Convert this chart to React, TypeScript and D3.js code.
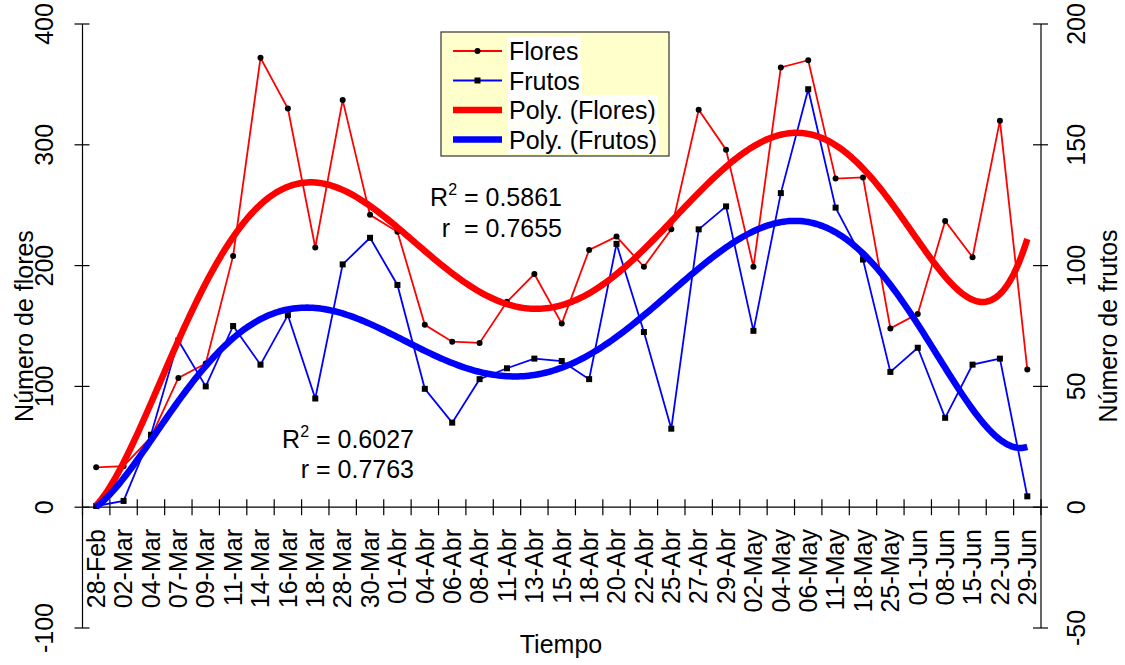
import React from "react";
import * as d3 from "d3";

const categories = [
  "28-Feb", "02-Mar", "04-Mar", "07-Mar", "09-Mar", "11-Mar", "14-Mar", "16-Mar", "18-Mar", "28-Mar",
  "30-Mar", "01-Abr", "04-Abr", "06-Abr", "08-Abr", "11-Abr", "13-Abr", "15-Abr", "18-Abr", "20-Abr",
  "22-Abr", "25-Abr", "27-Abr", "29-Abr", "02-May", "04-May", "06-May", "11-May", "18-May", "25-May",
  "01-Jun", "08-Jun", "15-Jun", "22-Jun", "29-Jun",
];
const flores = [
  33, 34, 58, 107, 119, 208, 372, 330, 215, 337,
  242, 228, 151, 137, 136, 170, 193, 152, 213, 224,
  199, 230, 329, 296, 199, 364, 370, 272, 273, 148,
  160, 237, 207, 320, 114,
];
const frutos = [
  0.5, 2.6, 30, 69, 50, 75, 59, 79.5, 45, 100.5,
  111.5, 92, 49, 35, 53, 57.5, 61.5, 60.5, 53, 109,
  72.5, 32.5, 115, 124.5, 73, 130, 173, 124, 102.5, 56,
  66, 37, 59, 61.5, 4.5,
];
const leftTicks = [-100, 0, 100, 200, 300, 400];
const rightTicks = [-50, 0, 50, 100, 150, 200];
const legendLabels = ["Flores", "Frutos", "Poly. (Flores)", "Poly. (Frutos)"];
const polyOrder = 6;

// least squares polynomial fit (Excel-like polynomial trendline)
function polyFit(ys: number[], order: number) {
  const n = ys.length;
  const c = (n - 1) / 2;
  const ts = ys.map((_, i) => (i - c) / c);
  const m = order + 1;
  const A: number[][] = [];
  for (let r = 0; r < m; r++) {
    const row: number[] = [];
    for (let k = 0; k < m; k++) {
      let s = 0;
      for (let i = 0; i < n; i++) s += Math.pow(ts[i], r + k);
      row.push(s);
    }
    let b = 0;
    for (let i = 0; i < n; i++) b += ys[i] * Math.pow(ts[i], r);
    row.push(b);
    A.push(row);
  }
  for (let col = 0; col < m; col++) {
    let piv = col;
    for (let r = col + 1; r < m; r++) if (Math.abs(A[r][col]) > Math.abs(A[piv][col])) piv = r;
    [A[col], A[piv]] = [A[piv], A[col]];
    for (let r = 0; r < m; r++) {
      if (r === col) continue;
      const f = A[r][col] / A[col][col];
      for (let k = col; k <= m; k++) A[r][k] -= f * A[col][k];
    }
  }
  const coef = A.map((row, i) => row[m] / row[i]);
  return (x: number) => {
    const t = (x - c) / c;
    let s = 0;
    for (let k = 0; k < m; k++) s += coef[k] * Math.pow(t, k);
    return s;
  };
}

const FONT = "'Liberation Sans', Arial, sans-serif";
const FS = 25;

function measure(text: string, size: number) {
  const cv = document.createElement("canvas");
  const ctx = cv.getContext("2d");
  if (!ctx) return text.length * size * 0.55;
  ctx.font = `${size}px ${FONT}`;
  return ctx.measureText(text).width;
}

export default function App() {
  const W = 1125, H = 665;
  const x0 = 82.5, x1 = 1041;
  const x = d3.scaleBand<string>().domain(categories).range([x0, x1]).paddingInner(0).paddingOuter(0);
  const cx = (i: number) => (x(categories[i]) as number) + x.bandwidth() / 2;
  const yL = d3.scaleLinear().domain([-100, 400]).range([628, 24]);
  const yR = d3.scaleLinear().domain([-50, 200]).range([628, 24]);
  const xi = d3.scaleLinear().domain([0, categories.length - 1]).range([cx(0), cx(categories.length - 1)]);

  const fitF = polyFit(flores, polyOrder);
  const fitR = polyFit(frutos, polyOrder);
  const samples = d3.range(0, categories.length - 1 + 1e-9, 0.1);

  const lineF = d3.line<number>().x((_, i) => cx(i)).y((v) => yL(v));
  const lineR = d3.line<number>().x((_, i) => cx(i)).y((v) => yR(v));
  const trendF = d3.line<number>().x((t) => xi(t)).y((t) => yL(fitF(t))).curve(d3.curveLinear);
  const trendR = d3.line<number>().x((t) => xi(t)).y((t) => yR(fitR(t))).curve(d3.curveLinear);

  const boundaries = d3.range(categories.length + 1).map((i) => x0 + i * x.bandwidth());

  const legX = 441, legY = 32, legW = 228, legH = 124;
  const legRowY = (i: number) => 51 + i * 29.5;

  return (
    <svg width={W} height={H} style={{ position: "absolute", left: 0, top: 0, fontFamily: FONT }}>
      <rect x={0} y={0} width={W} height={H} fill="#fff" />
      {/* left axis */}
      <line x1={x0} x2={x0} y1={yL(400)} y2={yL(-100)} stroke="#000" strokeWidth={1.2} />
      {leftTicks.map((t) => (
        <g key={"l" + t}>
          <line x1={x0 - 8} x2={x0 + 7} y1={yL(t)} y2={yL(t)} stroke="#000" strokeWidth={1.2} />
          <text transform={`translate(53,${yL(t)}) rotate(-90)`} textAnchor="middle" fontSize={FS} fill="#000">{t}</text>
        </g>
      ))}
      <text transform={`translate(33,326) rotate(-90)`} textAnchor="middle" fontSize={FS} fill="#000">Número de flores</text>
      {/* right axis */}
      <line x1={x1} x2={x1} y1={yR(200)} y2={yR(-50)} stroke="#000" strokeWidth={1.2} />
      {rightTicks.map((t) => (
        <g key={"r" + t}>
          <line x1={x1 - 8} x2={x1 + 7} y1={yR(t)} y2={yR(t)} stroke="#000" strokeWidth={1.2} />
          <text transform={`translate(1085,${yR(t)}) rotate(-90)`} textAnchor="middle" fontSize={FS} fill="#000">{t}</text>
        </g>
      ))}
      <text transform={`translate(1117,326) rotate(-90)`} textAnchor="middle" fontSize={FS} fill="#000">Número de frutos</text>
      {/* x axis */}
      <line x1={x0} x2={x1} y1={yL(0)} y2={yL(0)} stroke="#000" strokeWidth={1.2} />
      {boundaries.map((b, i) => (
        <line key={"b" + i} x1={b} x2={b} y1={yL(0) - 8} y2={yL(0) + 8} stroke="#000" strokeWidth={1.2} />
      ))}
      {categories.map((c, i) => (
        <text key={c} transform={`translate(${cx(i)},529) rotate(-90)`} dy="0.35em" textAnchor="end" fontSize={FS} fill="#000">{c}</text>
      ))}
      <text x={561} y={653} textAnchor="middle" fontSize={FS} fill="#000">Tiempo</text>

      {/* data series */}
      <path d={lineF(flores) || ""} fill="none" stroke="#FF0000" strokeWidth={1.8} />
      <path d={lineR(frutos) || ""} fill="none" stroke="#0000FF" strokeWidth={1.8} />
      {flores.map((v, i) => (
        <circle key={"fc" + i} cx={cx(i)} cy={yL(v)} r={3} fill="#000" />
      ))}
      {frutos.map((v, i) => (
        <rect key={"rs" + i} x={cx(i) - 3} y={yR(v) - 3} width={6} height={6} fill="#000" />
      ))}
      {/* trendlines */}
      <path d={trendF(samples) || ""} fill="none" stroke="#FF0000" strokeWidth={6.5} strokeLinejoin="round" />
      <path d={trendR(samples) || ""} fill="none" stroke="#0000FF" strokeWidth={6.5} strokeLinejoin="round" />

      {/* R2 labels */}
      <text x={562} y={206} textAnchor="end" fontSize={FS} fill="#000">
        R<tspan fontSize={16} dy={-11}>2</tspan><tspan dy={11}> = 0.5861</tspan>
      </text>
      <text x={562} y={237} textAnchor="end" fontSize={FS} fill="#000" style={{ whiteSpace: "pre" }}>{"r  = 0.7655"}</text>
      <text x={414} y={448} textAnchor="end" fontSize={FS} fill="#000">
        R<tspan fontSize={16} dy={-11}>2</tspan><tspan dy={11}> = 0.6027</tspan>
      </text>
      <text x={414} y={478} textAnchor="end" fontSize={FS} fill="#000">r = 0.7763</text>

      {/* legend */}
      <rect x={legX} y={legY} width={legW} height={legH} fill="#FFFFCC" stroke="#333" strokeWidth={1.2} />
      {legendLabels.map((lab, i) => {
        const yy = legRowY(i);
        const tw = measure(lab, FS);
        const thick = i >= 2;
        const col = i % 2 === 0 ? "#FF0000" : "#0000FF";
        return (
          <g key={lab}>
            <rect x={508} y={yy - 14.5} width={tw + 3} height={29} fill="#fff" />
            <line x1={453} x2={502} y1={yy} y2={yy} stroke={col} strokeWidth={thick ? 6.5 : 1.8} />
            {i === 0 && <circle cx={477.5} cy={yy} r={3} fill="#000" />}
            {i === 1 && <rect x={474.5} y={yy - 3} width={6} height={6} fill="#000" />}
            <text x={509} y={yy} dy="0.36em" fontSize={FS} fill="#000">{lab}</text>
          </g>
        );
      })}
    </svg>
  );
}
